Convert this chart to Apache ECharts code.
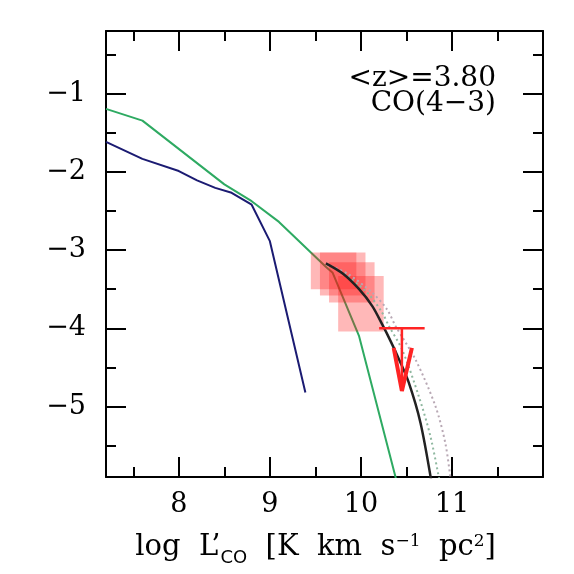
<!DOCTYPE html>
<html>
<head>
<meta charset="utf-8">
<script src="https://cdn.jsdelivr.net/npm/echarts@6/dist/echarts.min.js"></script>
<style>
html, body { margin: 0; padding: 0; background: #fff; }
#main { width: 574px; height: 574px; }
</style>
</head>
<body>
<div id="main"></div>
<script>
// tick positions
var xMajor = [8, 9, 10, 11];
var xMinor = [7.5, 8.5, 9.5, 10.5, 11.5];
var yMajor = [-1, -2, -3, -4, -5];
var yMinor = [-0.5, -1.5, -2.5, -3.5, -4.5, -5.5];

// model curves (log L'co, log phi)
var greenX = [7.2, 7.6, 8.5, 8.8, 9.1, 9.62, 9.69, 9.98, 10.4];
var greenY = [-1.195, -1.345, -2.16, -2.375, -2.64, -3.22, -3.29, -4.1, -5.99];
var blueX = [7.2, 7.6, 8.0, 8.2, 8.4, 8.58, 8.8, 9.0, 9.39];
var blueY = [-1.617, -1.834, -1.99, -2.11, -2.205, -2.268, -2.42, -2.886, -4.82];

// schechter fit and its alternatives
var fitX = [9.615, 9.8, 9.98, 10.125, 10.234, 10.326, 10.42, 10.526, 10.654, 10.77];
var fitY = [-3.17, -3.3, -3.5, -3.716, -3.95, -4.163, -4.4, -4.695, -5.206, -5.93];
var dotGX = [9.62, 9.8, 10.07, 10.234, 10.307, 10.452, 10.635, 10.763, 10.86];
var dotGY = [-3.18, -3.29, -3.545, -3.8, -3.97, -4.27, -4.866, -5.377, -5.93];
var dotPX = [9.62, 9.85, 10.125, 10.288, 10.38, 10.6, 10.817, 10.927, 10.985];
var dotPY = [-3.18, -3.3, -3.545, -3.76, -3.97, -4.40, -4.99, -5.466, -5.93];

// measured bins: [xmin, xmax, ymax, ymin]
var boxes = [
  [9.45, 9.95, -3.03, -3.50],
  [9.55, 10.05, -3.03, -3.58],
  [9.65, 10.15, -3.155, -3.67],
  [9.75, 10.25, -3.33, -4.04]
];

// upper limit
var limBarX = [10.2, 10.7];
var limBarY = [-4.0, -4.0];
var limStemX = [10.45, 10.45];
var limStemY = [-4.0, -4.8];
var limHeadX = [10.36, 10.45, 10.56];
var limHeadY = [-4.25, -4.8, -4.25];

function pairs(xs, ys) {
  return xs.map(function (x, i) { return [x, ys[i]]; });
}

var serif = 'DejaVu Serif';
var myChart = echarts.init(document.getElementById('main'));

function xAx(pos, vals, len, major, label) {
  return {
    type: 'value', min: 7.2, max: 12, position: pos,
    axisLine: { show: major, onZero: false, lineStyle: { color: '#000', width: 2 } },
    axisTick: { show: true, inside: true, length: len, customValues: vals, lineStyle: { color: '#000', width: 2 } },
    axisLabel: label ? { show: true, customValues: vals, margin: 14, color: '#000', fontSize: 27, fontFamily: serif } : { show: false },
    splitLine: { show: false }
  };
}
function yAx(pos, vals, len, major, label) {
  return {
    type: 'value', min: -5.9, max: -0.2, position: pos,
    axisLine: { show: major, onZero: false, lineStyle: { color: '#000', width: 2 } },
    axisTick: { show: true, inside: true, length: len, customValues: vals, lineStyle: { color: '#000', width: 2 } },
    axisLabel: label ? {
      show: true, customValues: vals, margin: 20, color: '#000', fontSize: 27, fontFamily: serif,
      formatter: function (v) { return '\u2212' + Math.abs(v); }
    } : { show: false },
    splitLine: { show: false }
  };
}

var gap = ' \u00a0';
var xBottom = xAx('bottom', xMajor, 20, true, true);
xBottom.name = '{a|log' + gap + 'L\u2019}{sub|CO}{a|' + gap + '[K' + gap + 'km' + gap + 's}{sup|\u22121}{a|' + gap + 'pc}{sup|2}{a|]}';
xBottom.nameLocation = 'middle';
xBottom.nameGap = 56;
xBottom.nameTextStyle = {
  color: '#000',
  fontSize: 29,
  fontFamily: serif,
  padding: [0, 18, 0, 0],
  rich: {
    a: { fontSize: 29, fontFamily: serif, color: '#000', lineHeight: 34, padding: [0, 0, 10, 0], verticalAlign: 'top' },
    sub: { fontSize: 18, fontFamily: 'DejaVu Sans', color: '#000', lineHeight: 20, verticalAlign: 'bottom' },
    sup: { fontSize: 17, fontFamily: serif, color: '#000', lineHeight: 20, verticalAlign: 'top' }
  }
};

myChart.setOption({
  backgroundColor: '#fff',
  animation: false,
  grid: { left: 106, right: 31, top: 31, bottom: 97, containLabel: false, outerBoundsMode: 'none' },
  xAxis: [
    xBottom,
    xAx('bottom', xMinor, 10, false, false),
    xAx('top', xMajor, 20, true, false),
    xAx('top', xMinor, 10, false, false)
  ],
  yAxis: [
    yAx('left', yMajor, 20, true, true),
    yAx('left', yMinor, 10, false, false),
    yAx('right', yMajor, 20, true, false),
    yAx('right', yMinor, 10, false, false)
  ],
  graphic: [
    { type: 'text', x: 496, y: 65, style: { text: '<z>=3.80', fill: '#000', font: '28px "DejaVu Serif"', textAlign: 'right', textVerticalAlign: 'top' } },
    { type: 'text', x: 496, y: 90, style: { text: 'CO(4\u22123)', fill: '#000', font: '28px "DejaVu Serif"', textAlign: 'right', textVerticalAlign: 'top' } }
  ],
  series: [
    {
      type: 'line', data: pairs(greenX, greenY), symbol: 'none', z: 2,
      lineStyle: { color: '#2eaa62', width: 2 }
    },
    {
      type: 'line', data: pairs(blueX, blueY), symbol: 'none', z: 2,
      lineStyle: { color: '#1b1b72', width: 2 }
    },
    {
      type: 'custom', z: 3,
      data: boxes,
      renderItem: function (params, api) {
        var p0 = api.coord([api.value(0), api.value(2)]);
        var p1 = api.coord([api.value(1), api.value(3)]);
        return {
          type: 'rect',
          shape: { x: p0[0], y: p0[1], width: p1[0] - p0[0], height: p1[1] - p0[1] },
          style: { fill: 'rgba(255,20,20,0.3)' }
        };
      }
    },
    {
      type: 'line', data: pairs(dotGX, dotGY), symbol: 'none', smooth: 0.3, z: 4,
      lineStyle: { color: '#8fb8a0', width: 2, type: [2, 3] }
    },
    {
      type: 'line', data: pairs(dotPX, dotPY), symbol: 'none', smooth: 0.3, z: 4,
      lineStyle: { color: '#b8a8b4', width: 2, type: [2, 3] }
    },
    {
      type: 'line', data: pairs(fitX, fitY), symbol: 'none', smooth: 0.3, z: 5,
      lineStyle: { color: '#222', width: 2.5 }
    },
    {
      type: 'line', data: pairs(limBarX, limBarY), symbol: 'none', z: 6,
      lineStyle: { color: '#ff2424', width: 2.5 }
    },
    {
      type: 'line', data: pairs(limStemX, limStemY), symbol: 'none', z: 6,
      lineStyle: { color: '#ff2424', width: 2.5 }
    },
    {
      type: 'line', data: pairs(limHeadX, limHeadY), symbol: 'none', z: 6,
      lineStyle: { color: '#ff2424', width: 4 }
    }
  ]
});
</script>
</body>
</html>
